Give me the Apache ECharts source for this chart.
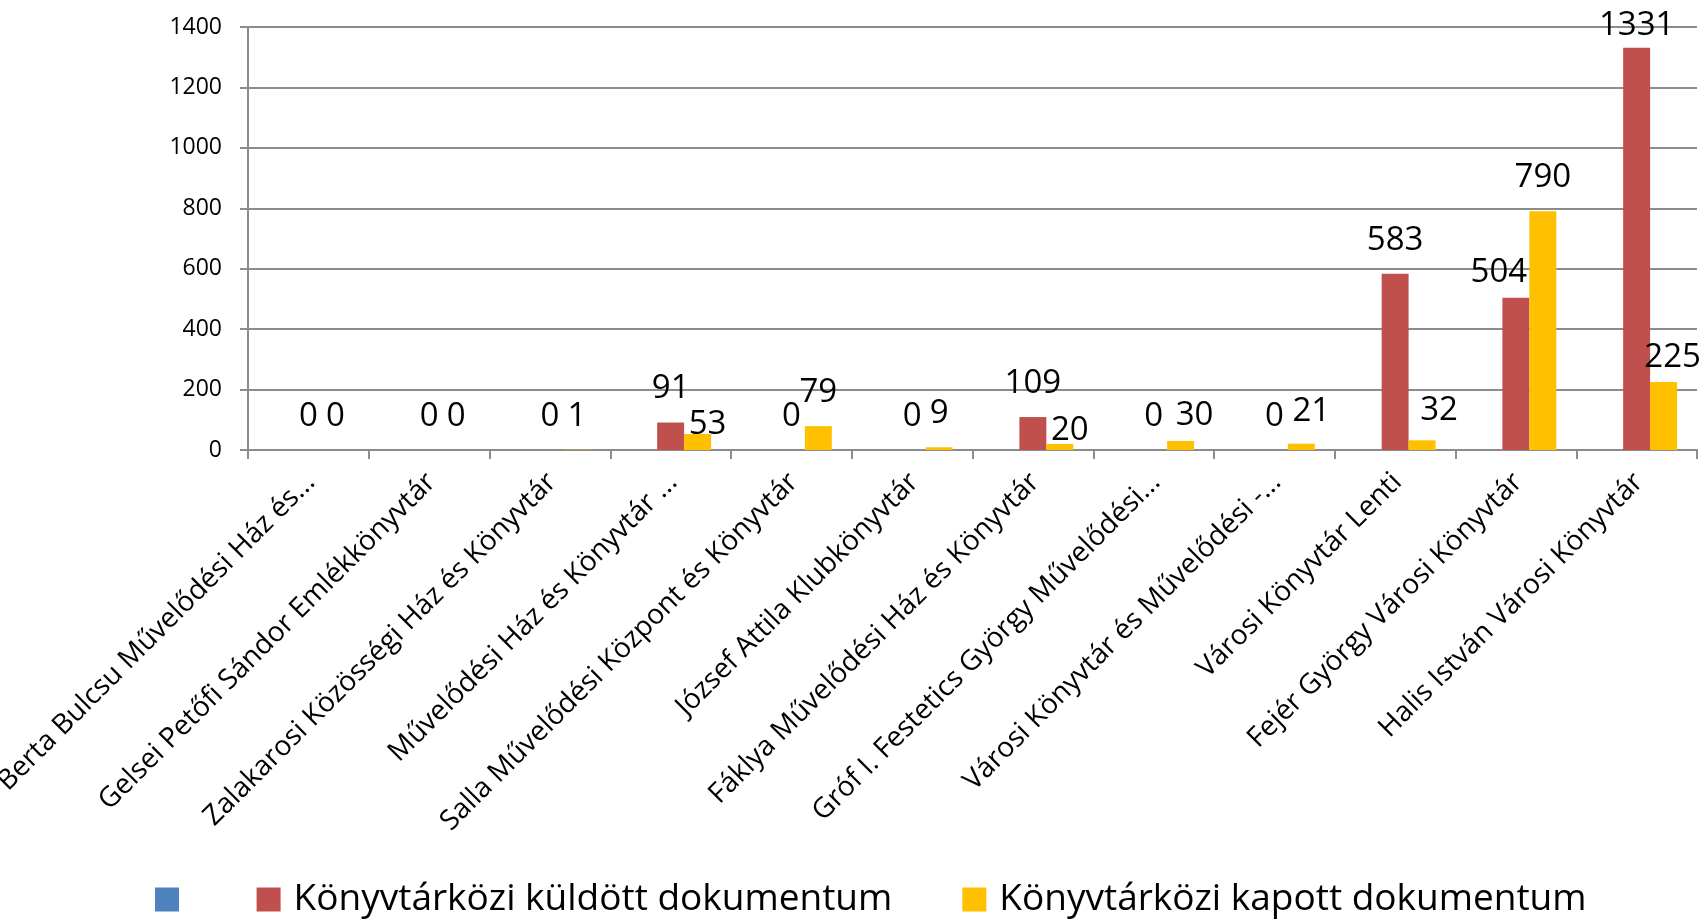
<!DOCTYPE html>
<html>
<head>
    <meta charset="utf-8">
    <title>Könyvtárközi dokumentumok</title>
    <script src="https://cdn.jsdelivr.net/npm/echarts@6/dist/echarts.min.js"></script>
    <style>
        html, body { margin: 0; padding: 0; background: #fff; }
    </style>
</head>
<body>
    <div id="main" style="width: 1704px;height:921px;"></div>
    <script type="text/javascript">
        // könyvtárak (ahogy a tengelyen látszanak)
        var categories = [
            'Berta Bulcsu Művelődési Ház és...',
            'Gelsei Petőfi Sándor Emlékkönyvtár',
            'Zalakarosi Közösségi Ház és Könyvtár',
            'Művelődési Ház és Könyvtár ...',
            'Salla Művelődési Központ és Könyvtár',
            'József Attila Klubkönyvtár',
            'Fáklya Művelődési Ház és Könyvtár',
            'Gróf I. Festetics György Művelődési...',
            'Városi Könyvtár és Művelődési -...',
            'Városi Könyvtár Lenti',
            'Fejér György Városi Könyvtár',
            'Halis István Városi Könyvtár'
        ];
        var seriesNames = [' ', 'Könyvtárközi küldött dokumentum', 'Könyvtárközi kapott dokumentum'];
        var blankValues = [];   // az üres (kék) sorozat
        var sentValues = [0, 0, 0, 91, 0, 0, 109, 0, 0, 583, 504, 1331];
        var receivedValues = [0, 0, 1, 53, 79, 9, 20, 30, 21, 32, 790, 225];
        var yMin = 0, yMax = 1400, yStep = 200;

        // címkék eltolása (Excel kézzel igazított feliratai)
        var sentNudge = { 10: [-17, 8], 11: [0, 11] };
        var receivedNudge = { 3: [10, 24], 6: [10, 20], 7: [14, 8], 8: [10, 1], 9: [17, 4], 11: [9, 9] };

        function withNudge(values, nudge) {
            return values.map(function (v, i) {
                if (!nudge[i]) return v;
                return { value: v, label: { offset: nudge[i] } };
            });
        }

        var FONT = 'Open Sans';
        var myChart = echarts.init(document.getElementById('main'));

        var barLabel = {
            show: true,
            position: 'top',
            distance: 17,
            color: '#000',
            fontFamily: FONT,
            fontSize: 33
        };

        var option = {
            animation: false,
            backgroundColor: '#fff',
            textStyle: { fontFamily: FONT },
            grid: {
                left: 248, right: 7, top: 27, bottom: 471,
                containLabel: false,
                outerBoundsMode: 'none'
            },
            legend: {
                left: 150,
                top: 876,
                itemWidth: 24,
                itemHeight: 24,
                itemGap: 70,
                icon: 'rect',
                textStyle: {
                    fontFamily: FONT, fontSize: 37, color: '#000',
                    padding: [0, 0, 0, 8]
                },
                data: [
                    { name: seriesNames[0], textStyle: { fontSize: 10, padding: 0 } },
                    seriesNames[1],
                    seriesNames[2]
                ]
            },
            xAxis: {
                type: 'category',
                data: categories,
                axisLine: { lineStyle: { color: '#8c8c8c', width: 2 } },
                axisTick: { show: true, length: 9, lineStyle: { color: '#8c8c8c', width: 2 } },
                axisLabel: {
                    interval: 0,
                    rotate: 45,
                    margin: 30,
                    color: '#000',
                    fontFamily: FONT,
                    fontSize: 28,
                    padding: [0, -3, 0, 0]
                }
            },
            yAxis: {
                type: 'value',
                min: yMin,
                max: yMax,
                interval: yStep,
                axisLine: { show: true, lineStyle: { color: '#8c8c8c', width: 2 } },
                axisTick: { show: true, length: 8, lineStyle: { color: '#8c8c8c', width: 2 } },
                splitLine: { lineStyle: { color: '#8c8c8c', width: 2 } },
                axisLabel: {
                    margin: 26,
                    color: '#000',
                    fontFamily: FONT,
                    fontSize: 23,
                    formatter: function (v) { return String(v); }
                }
            },
            series: [
                {
                    name: seriesNames[0],
                    type: 'bar',
                    itemStyle: { color: '#4F81BD' },
                    barGap: '0%',
                    barCategoryGap: '33%',
                    data: blankValues
                },
                {
                    name: seriesNames[1],
                    type: 'bar',
                    itemStyle: { color: '#C0504D' },
                    barGap: '0%',
                    barCategoryGap: '33%',
                    label: barLabel,
                    data: withNudge(sentValues, sentNudge)
                },
                {
                    name: seriesNames[2],
                    type: 'bar',
                    itemStyle: { color: '#FFC000' },
                    barGap: '0%',
                    barCategoryGap: '33%',
                    label: barLabel,
                    data: withNudge(receivedValues, receivedNudge)
                }
            ]
        };

        myChart.setOption(option);
    </script>
</body>
</html>
